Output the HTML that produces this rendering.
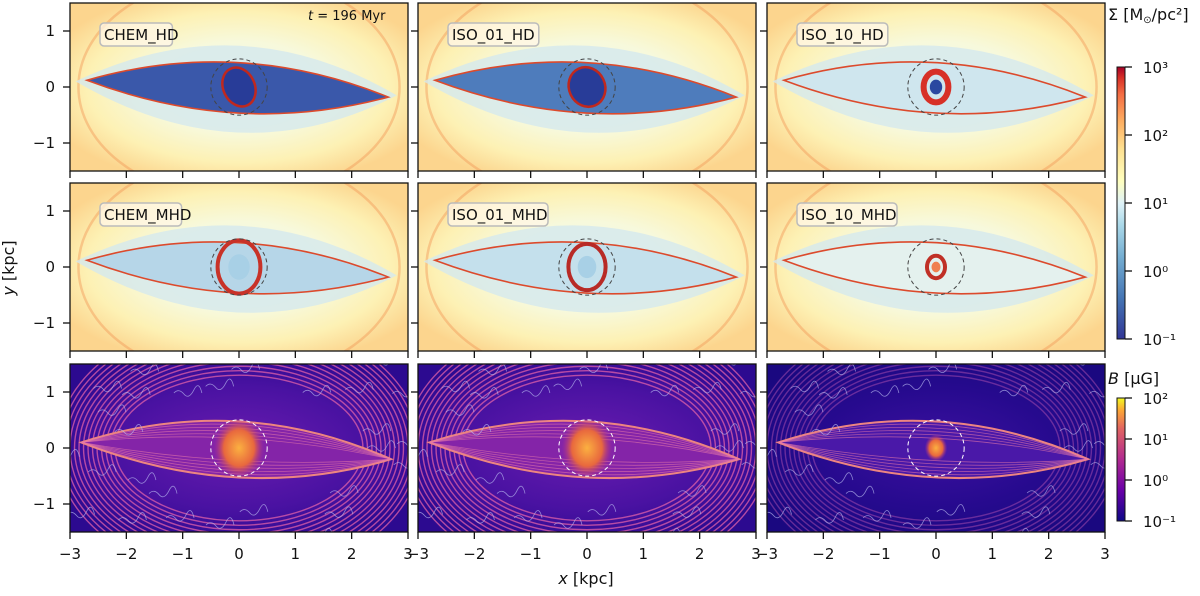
<!DOCTYPE html>
<html><head><meta charset="utf-8">
<style>
html,body{margin:0;padding:0;background:#fff;}
svg{display:block;font-family:"DejaVu Sans","Liberation Sans",sans-serif;}
</style></head>
<body>
<svg id="fig" width="1200" height="596" viewBox="0 0 1200 596" xmlns="http://www.w3.org/2000/svg">
<defs>
  <radialGradient id="bgHD" cx="50%" cy="50%" r="60%">
    <stop offset="0" stop-color="#eef6ee"/>
    <stop offset="0.45" stop-color="#f7f9dc"/>
    <stop offset="0.75" stop-color="#fdf1b4"/>
    <stop offset="1" stop-color="#fcd58e"/>
  </radialGradient>
  <radialGradient id="bgB" cx="50%" cy="50%" r="60%">
    <stop offset="0" stop-color="#6a1cb0"/>
    <stop offset="0.6" stop-color="#4a12a2"/>
    <stop offset="1" stop-color="#2c0a90"/>
  </radialGradient>
  <radialGradient id="bgB3" cx="50%" cy="50%" r="60%">
    <stop offset="0" stop-color="#3c10a0"/>
    <stop offset="0.6" stop-color="#260a8e"/>
    <stop offset="1" stop-color="#1a0880"/>
  </radialGradient>
  <radialGradient id="coreB" cx="50%" cy="50%" r="50%">
    <stop offset="0" stop-color="#fbb040"/>
    <stop offset="0.6" stop-color="#e8683e"/>
    <stop offset="1" stop-color="#b0308a" stop-opacity="0"/>
  </radialGradient>
  <linearGradient id="cbS" x1="0" y1="1" x2="0" y2="0">
    <stop offset="0" stop-color="#313695"/>
    <stop offset="0.15" stop-color="#4575b4"/>
    <stop offset="0.3" stop-color="#74add1"/>
    <stop offset="0.42" stop-color="#abd9e9"/>
    <stop offset="0.5" stop-color="#e0f3f8"/>
    <stop offset="0.58" stop-color="#ffffbf"/>
    <stop offset="0.7" stop-color="#fee090"/>
    <stop offset="0.8" stop-color="#fdae61"/>
    <stop offset="0.9" stop-color="#f46d43"/>
    <stop offset="0.96" stop-color="#d73027"/>
    <stop offset="1" stop-color="#a50026"/>
  </linearGradient>
  <linearGradient id="cbB" x1="0" y1="1" x2="0" y2="0">
    <stop offset="0" stop-color="#0d0887"/>
    <stop offset="0.25" stop-color="#6a00a8"/>
    <stop offset="0.5" stop-color="#b12a90"/>
    <stop offset="0.75" stop-color="#e16462"/>
    <stop offset="0.9" stop-color="#fca636"/>
    <stop offset="1" stop-color="#f0f921"/>
  </linearGradient>
</defs>
<g id="panels"></g>
<g id="axes"></g>
</svg>
<script>
// ---- data ----
const xTicks = [-3, -2, -1, 0, 1, 2, 3];
const yTicks = [-1, 0, 1];
const colLeft = [70, 418, 767];
const rowTop = [3, 183, 364];
const panelNames = ["CHEM_HD","ISO_01_HD","ISO_10_HD","CHEM_MHD","ISO_01_MHD","ISO_10_MHD"];
const lensFill = ["#3a58aa","#4e7cbc","#cfe6ee","#b6d6e8","#c4e0ec","#e4f1ee"];
const coreFill = ["#283c98","#283c98","#d73027","#c83228","#b82a26","#c03026"];
const coreRx = [0.28,0.32,0.22,0.38,0.33,0.16];
const sigmaTicks = ["10³","10²","10¹","10⁰","10⁻¹"];
const bTicks = ["10²","10¹","10⁰","10⁻¹"];
const PW = 338, PH = 168;
const NS = "http://www.w3.org/2000/svg";

function el(tag, attrs, parent){
  const e = document.createElementNS(NS, tag);
  for (const k in attrs) e.setAttribute(k, attrs[k]);
  if (parent) parent.appendChild(e);
  return e;
}
function sx(c, x){ return colLeft[c] + (x + 3) / 6 * PW; }
function sy(r, y){ return rowTop[r] + (1.5 - y) / 3 * PH; }

const gP = document.getElementById('panels');
const gA = document.getElementById('axes');

function lensPath(c, r, x1, y1, x2, y2, up, dn){
  return `M${sx(c,x1)},${sy(r,y1)} Q${sx(c,0)},${sy(r,up)} ${sx(c,x2)},${sy(r,y2)} Q${sx(c,0)},${sy(r,dn)} ${sx(c,x1)},${sy(r,y1)}Z`;
}

for (let r = 0; r < 3; r++) {
  for (let c = 0; c < 3; c++) {
    const g = el('g', {}, gP);
    
    
    const clip = el('clipPath', {id: 'cl'+r+c}, gP);
    el('rect', {x: colLeft[c], y: rowTop[r], width: PW, height: PH}, clip);
    g.setAttribute('clip-path', 'url(#cl'+r+c+')');
    const cx = sx(c,0), cy = sy(r,0), ux = PW/6, uy = PH/3;
    if (r < 2) {
      const i = r*3 + c;
      el('rect', {x: colLeft[c], y: rowTop[r], width: PW, height: PH, fill: 'url(#bgHD)'}, g);
      el('ellipse', {cx, cy, rx: 2.85*ux, ry: 2.0*uy, fill: 'none', stroke: '#f29a58', 'stroke-width': 2.5, opacity: 0.45}, g);
      el('path', {d: lensPath(c, r, -2.9, 0.1, 2.8, -0.15, 1.5, -1.6), fill: '#d4e9ee', opacity: 0.8}, g);
      el('path', {d: lensPath(c, r, -2.7, 0.12, 2.65, -0.18, 0.9, -0.9), fill: lensFill[i], stroke: '#dc4a2c', 'stroke-width': 1.6}, g);
      if (i === 2 || i === 5 || i === 4 || i === 3) {
        el('ellipse', {cx, cy, rx: coreRx[i]*ux, ry: coreRx[i]*uy*1.25, fill: 'none', stroke: coreFill[i], 'stroke-width': i===2?6:4}, g);
        el('ellipse', {cx, cy, rx: coreRx[i]*ux*0.5, ry: coreRx[i]*uy*0.6, fill: i===2?'#2a48a0':(i===5?'#f08050':'#a8d0e6')}, g);
      } else {
        el('ellipse', {cx, cy, rx: coreRx[i]*ux, ry: 0.36*uy, fill: coreFill[i], stroke: '#c0281e', 'stroke-width': 2.5, transform: `rotate(-25 ${cx} ${cy})`}, g);
      }
      el('circle', {cx, cy, r: 0.5*ux, fill: 'none', stroke: '#444', 'stroke-width': 1, 'stroke-dasharray': '4,3'}, g);
      const lb = el('g', {}, g);
      
      
      const tw = panelNames[i].length * 9.2 + 8;
      el('rect', {x: colLeft[c]+30, y: rowTop[r]+20, width: tw, height: 23, rx: 4, fill: '#fff7e8', 'fill-opacity': 0.75, stroke: '#bbb', 'stroke-width': 1.5}, lb);
      const t = el('text', {x: colLeft[c]+34, y: rowTop[r]+37, 'font-size': 15, fill: '#111'}, lb);
      t.textContent = panelNames[i];
    } else {
      el('rect', {x: colLeft[c], y: rowTop[r], width: PW, height: PH, fill: c===2?'url(#bgB3)':'url(#bgB)'}, g);
      const arcCol = c === 2 ? '#b050b0' : '#e060a8';
      for (let k = 0; k < 14; k++) {
        const s = 2.2 + k*0.08;
        el('ellipse', {cx, cy, rx: s*ux, ry: (s-0.9)*uy, fill: 'none', stroke: arcCol, 'stroke-width': 1.4, opacity: c===2?0.5:0.75}, g);
      }
      el('path', {d: lensPath(c, r, -2.8, 0.1, 2.7, -0.2, 1.0, -1.0), fill: c===2?'#4a18a8':'#8424a8', stroke: '#f08a70', 'stroke-width': 2}, g);
      for (let k = 0; k < 6; k++) {
        el('path', {d: lensPath(c, r, -2.8, 0.1, 2.7, -0.2, 0.4 + k*0.12, -0.4 - k*0.12), fill: 'none', stroke: '#e87aa8', 'stroke-width': 0.8, opacity: 0.6}, g);
      }
      for (let k = 0; k < 60; k++) {
        const a = k * 2.4, rr = 1.2 + (k % 6) * 0.28;
        const x0 = Math.cos(a) * rr * 1.9, y0 = Math.sin(a) * rr * 0.95;
        el('path', {d: `M${sx(c,x0)},${sy(r,y0)} q5,-5 10,1 t10,-4 t8,3`, fill: 'none', stroke: '#b8b8f0', 'stroke-width': 0.8, opacity: 0.7}, g);
      }
      el('ellipse', {cx, cy, rx: (c===2?0.2:0.45)*ux, ry: (c===2?0.2:0.45)*uy*1.2, fill: 'url(#coreB)'}, g);
      el('circle', {cx, cy, r: 0.5*ux, fill: 'none', stroke: '#fff', 'stroke-width': 1, 'stroke-dasharray': '4,3'}, g);
    }
    const fr = el('rect', {x: colLeft[c], y: rowTop[r], width: PW, height: PH, fill: 'none', stroke: '#111', 'stroke-width': 1.3}, gA);
    
    
    xTicks.forEach(v => {
      const X = sx(c, v), Y = rowTop[r] + PH;
      el('line', {x1: X, x2: X, y1: Y, y2: Y + 7, stroke: '#111', 'stroke-width': 1.3}, gA);
      if (r === 2) {
        const t = el('text', {x: X, y: Y + 27, 'font-size': 15, 'text-anchor': 'middle', fill: '#111'}, gA);
        
        
        t.textContent = v < 0 ? '−' + (-v) : String(v);
      }
    });
    yTicks.forEach(v => {
      const Y = sy(r, v);
      el('line', {x1: colLeft[c]-7, x2: colLeft[c], y1: Y, y2: Y, stroke: '#111', 'stroke-width': 1.3}, gA);
      if (c === 0) {
        const t = el('text', {x: 55, y: Y + 5, 'font-size': 15, 'text-anchor': 'end', fill: '#111'}, gA);
        
        
        t.textContent = v < 0 ? '−' + (-v) : String(v);
      }
    });
  }
}

const tl = el('text', {x: 308, y: 20, 'font-size': 13, fill: '#111'}, gA);


tl.innerHTML = '<tspan font-style="italic">t</tspan> = 196 Myr';

const xt = el('text', {x: 586, y: 584, 'font-size': 16, 'text-anchor': 'middle', fill: '#111'}, gA);


xt.innerHTML = '<tspan font-style="italic">x</tspan> [kpc]';
const yt = el('text', {x: 14, y: 268, 'font-size': 16, 'text-anchor': 'middle', fill: '#111', transform: 'rotate(-90 14 268)'}, gA);


yt.innerHTML = '<tspan font-style="italic">y</tspan> [kpc]';

function colorbar(name, grad, top, bot, ticks, title, ty){
  const g = el('g', {}, gA);
  
  
  el('rect', {x: 1117, y: top, width: 8, height: bot - top, fill: 'url(#' + grad + ')', stroke: '#111', 'stroke-width': 1}, g);
  ticks.forEach((lab, k) => {
    const Y = top + k * (bot - top) / (ticks.length - 1);
    el('line', {x1: 1125, x2: 1132, y1: Y, y2: Y, stroke: '#111', 'stroke-width': 1.3}, g);
    const t = el('text', {x: 1143, y: Y + 6, 'font-size': 15, fill: '#111'}, g);
    t.textContent = lab;
  });
  const tt = el('text', {x: 1108, y: ty, 'font-size': 16, fill: '#111'}, g);
  tt.innerHTML = title;
}
colorbar('sigma-colorbar', 'cbS', 67, 339, sigmaTicks, 'Σ [M<tspan font-size="10" dy="3">⊙</tspan><tspan dy="-3">/pc²]</tspan>', 20);
colorbar('bfield-colorbar', 'cbB', 398, 521, bTicks, '<tspan font-style="italic">B</tspan> [μG]', 384);
</script>
</body></html>
